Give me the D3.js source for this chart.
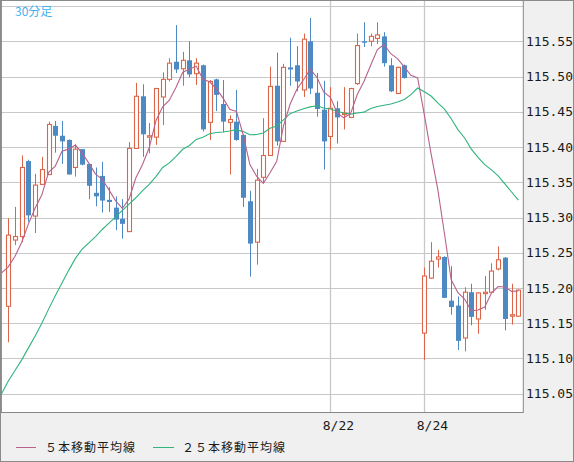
<!DOCTYPE html>
<html>
<head>
<meta charset="utf-8">
<script src="https://cdn.jsdelivr.net/npm/d3@7"></script>
<style>
  html, body { margin: 0; padding: 0; background: #f0f0f0; }
  svg { display: block; }
</style>
</head>
<body>
<svg id="chart" width="574" height="462"></svg>
<script>
// ---- data ----
const opens  = [115.174,115.268,115.273,115.380,115.302,115.347,115.361,115.430,115.416,115.410,
                115.371,115.397,115.376,115.335,115.359,115.325,115.314,115.298,115.280,115.398,
                115.472,115.414,115.414,115.471,115.496,115.521,115.511,115.523,115.504,115.516,
                115.435,115.496,115.461,115.435,115.436,115.417,115.323,115.265,115.357,115.388,
                115.487,115.408,115.513,115.516,115.481,115.550,115.477,115.453,115.415,115.455,
                115.446,115.442,115.490,115.550,115.550,115.554,115.557,115.516,115.476,115.516,
                115.500,115.500,115.136,115.214,115.241,115.244,115.182,115.175,115.129,115.194,
                115.156,115.192,115.194,115.227,115.243,115.160,115.160];
const highs  = [115.299,115.315,115.388,115.382,115.362,115.386,115.436,115.437,115.437,115.411,
                115.404,115.397,115.376,115.371,115.379,115.343,115.330,115.326,115.407,115.491,
                115.489,115.434,115.484,115.506,115.526,115.573,115.535,115.550,115.526,115.517,
                115.495,115.497,115.495,115.445,115.481,115.418,115.338,115.369,115.441,115.514,
                115.534,115.518,115.555,115.543,115.561,115.583,115.505,115.494,115.485,115.465,
                115.485,115.484,115.561,115.577,115.561,115.577,115.563,115.526,115.514,115.517,
                115.500,115.500,115.229,115.265,115.254,115.245,115.231,115.188,115.201,115.206,
                115.194,115.217,115.235,115.259,115.244,115.206,115.198];
const lows   = [115.123,115.261,115.265,115.294,115.278,115.346,115.361,115.392,115.376,115.361,
                115.358,115.374,115.326,115.316,115.307,115.308,115.282,115.270,115.280,115.398,
                115.386,115.391,115.403,115.431,115.493,115.505,115.487,115.499,115.488,115.422,
                115.410,115.451,115.421,115.361,115.409,115.315,115.216,115.233,115.349,115.388,
                115.402,115.408,115.487,115.479,115.471,115.475,115.443,115.368,115.396,115.405,
                115.425,115.441,115.488,115.542,115.543,115.546,115.514,115.478,115.475,115.497,
                115.500,115.500,115.098,115.213,115.229,115.186,115.162,115.112,115.110,115.147,
                115.135,115.169,115.193,115.225,115.140,115.148,115.159];
const closes = [115.275,115.273,115.371,115.303,115.346,115.368,115.432,115.416,115.408,115.361,
                115.397,115.375,115.345,115.330,115.324,115.322,115.297,115.291,115.398,115.472,
                115.418,115.416,115.483,115.496,115.519,115.510,115.523,115.503,115.519,115.425,
                115.493,115.474,115.436,115.439,115.410,115.328,115.263,115.353,115.388,115.486,
                115.408,115.513,115.510,115.493,115.553,115.483,115.454,115.408,115.455,115.442,
                115.448,115.483,115.544,115.548,115.557,115.559,115.519,115.479,115.513,115.498,
                115.500,115.500,115.217,115.238,115.244,115.186,115.173,115.125,115.194,115.159,
                115.193,115.194,115.224,115.240,115.156,115.162,115.197];

// moving-average values before enough bars exist in this window, index -1 ..
const ma5Lead  = [115.2215,115.230,115.245,115.265,115.291];
const ma25Lead = [115.050,115.068,115.083,115.098,115.115,115.132,115.150,115.170,115.189,115.207,
                  115.225,115.242,115.255,115.264,115.273,115.283,115.292,115.301,115.310,115.319,
                  115.328,115.338,115.347,115.358,115.371];

const yTicks = [115.05,115.10,115.15,115.20,115.25,115.30,115.35,115.40,115.45,115.50,115.55,115.60];
const yTickLabels = ["115.05","115.10","115.15","115.20","115.25","115.30","115.35","115.40","115.45","115.50","115.55"];
const dateTickIndex = [48, 62];
const dateTickLabels = ["8/22", "8/24"];
const legendLabels = ["５本移動平均線", "２５本移動平均線"];
const periodLabel = "30分足";

// ---- drawing ----
const W = 574, H = 462;
const plot = {left: 1, top: 0.5, right: 523.3, bottom: 412};
const colUp = "#dc6549", colDown = "#4d89c3", colMA5 = "#b8628c", colMA25 = "#2fb47c", colGrid = "#c8c8c8";

const svg = d3.select("#chart");
svg.append("rect").attr("x",0).attr("y",0).attr("width",W).attr("height",H).attr("fill","#f0f0f0");

const x = d3.scaleLinear().domain([0, 76]).range([8.3, 518.3]);
const y = d3.scaleLinear().domain([115.05, 115.55]).range([393.7, 41.3]);

svg.append("defs").append("clipPath").attr("id","clip")
  .append("rect").attr("x",plot.left+0.5).attr("y",plot.top).attr("width",plot.right-plot.left-0.5).attr("height",plot.bottom-plot.top);

svg.append("rect").attr("x",plot.left).attr("y",plot.top)
  .attr("width",plot.right-plot.left).attr("height",plot.bottom-plot.top)
  .attr("fill","#fff");

// horizontal grid
svg.append("g").selectAll("line").data(yTicks).join("line")
  .attr("x1",plot.left).attr("x2",plot.right)
  .attr("y1",d=>Math.round(y(d))+0.5).attr("y2",d=>Math.round(y(d))+0.5)
  .attr("stroke",colGrid).attr("stroke-width",1);

// vertical date grid
svg.append("g").selectAll("line").data(dateTickIndex).join("line")
  .attr("x1",d=>Math.round(x(d))+0.5).attr("x2",d=>Math.round(x(d))+0.5)
  .attr("y1",plot.top).attr("y2",plot.bottom)
  .attr("stroke",colGrid).attr("stroke-width",1.3);

// y-axis labels
svg.append("g").selectAll("text").data(yTickLabels).join("text")
  .attr("x",526).attr("y",d=>y(+d)).attr("dy","0.36em")
  .attr("font-family","'DejaVu Sans Mono', monospace").attr("font-size",13)
  .attr("fill","#1a1a1a").text(d=>d);

// date labels
svg.append("g").selectAll("text").data(dateTickIndex).join("text")
  .attr("x",d=>x(d)-7.6).attr("y",430)
  .attr("font-family","'DejaVu Sans Mono', monospace").attr("font-size",13)
  .attr("fill","#1a1a1a").text((d,i)=>dateTickLabels[i]);

// period label
svg.append("text").attr("x",15).attr("y",15.5)
  .attr("font-family","'Noto Sans CJK JP', sans-serif").attr("font-size",12)
  .attr("fill","#3fb2ee").text(periodLabel);

// candles
const idx = d3.range(closes.length);
const gC = svg.append("g").attr("clip-path","url(#clip)");
const cx = i => Math.round(x(i)) + 0.5;
gC.selectAll("line.wick").data(idx).join("line").attr("class","wick")
  .attr("x1",cx).attr("x2",cx)
  .attr("y1",i=>y(highs[i])).attr("y2",i=>y(lows[i]))
  .attr("stroke",i=>closes[i]>=opens[i]?colUp:colDown).attr("stroke-width",1);
gC.selectAll("rect.body").data(idx).join("rect").attr("class","body")
  .each(function(i){
    const up = closes[i] >= opens[i];
    const top = y(Math.max(opens[i],closes[i])), bot = y(Math.min(opens[i],closes[i]));
    const s = d3.select(this);
    if (up) {
      s.attr("x",cx(i)-2).attr("width",4)
       .attr("y",top).attr("height",Math.max(0,bot-top))
       .attr("fill","#fff").attr("stroke",colUp).attr("stroke-width",1.1);
    } else {
      s.attr("x",cx(i)-2.5).attr("width",5)
       .attr("y",top).attr("height",Math.max(1,bot-top))
       .attr("fill",colDown);
    }
  });

// moving averages: lead values from the picture, then averages of the closes
function movingAvg(n, lead) {
  const pts = lead.map((v,k)=>[k-1, v]);
  for (let i = lead.length - 1; i < closes.length; i++) {
    pts.push([i, d3.mean(closes.slice(i-n+1, i+1))]);
  }
  return pts;
}
const ma5 = movingAvg(5, ma5Lead);
const ma25 = movingAvg(25, ma25Lead);
const line = d3.line().x(d=>x(d[0])).y(d=>y(d[1]));
gC.append("path").datum(ma25).attr("d",line).attr("fill","none")
  .attr("stroke",colMA25).attr("stroke-width",1.1);
gC.append("path").datum(ma5).attr("d",line).attr("fill","none")
  .attr("stroke",colMA5).attr("stroke-width",1.1);

// plot frame
svg.append("line").attr("x1",plot.left).attr("x2",plot.left).attr("y1",0).attr("y2",plot.bottom).attr("stroke","#6e6e6e").attr("stroke-width",1.5);
svg.append("line").attr("x1",0).attr("x2",plot.right).attr("y1",0.5).attr("y2",0.5).attr("stroke","#6e6e6e").attr("stroke-width",1);
svg.append("line").attr("x1",plot.right).attr("x2",plot.right).attr("y1",0).attr("y2",plot.bottom).attr("stroke","#888").attr("stroke-width",1);
svg.append("line").attr("x1",0).attr("x2",plot.right+0.5).attr("y1",plot.bottom+0.5).attr("y2",plot.bottom+0.5).attr("stroke","#888").attr("stroke-width",1);
// outer frame
svg.append("rect").attr("x",0.5).attr("y",0.5).attr("width",W-1).attr("height",H-1)
  .attr("fill","none").attr("stroke","#8a8a8a").attr("stroke-width",1);

// legend
const legend = svg.append("g");
const legX = [[16,36,45],[153,174,182]];
[colMA5, colMA25].forEach((c,k)=>{
  legend.append("line").attr("x1",legX[k][0]).attr("x2",legX[k][1]).attr("y1",447.5).attr("y2",447.5)
    .attr("stroke",c).attr("stroke-width",1);
  legend.append("text").attr("x",legX[k][2]).attr("y",448).attr("dy","0.36em")
    .attr("font-family","'Noto Sans CJK JP', sans-serif").attr("font-size",12)
    .attr("letter-spacing","1px").attr("fill","#1a1a1a").text(legendLabels[k]);
});
</script>
</body>
</html>
